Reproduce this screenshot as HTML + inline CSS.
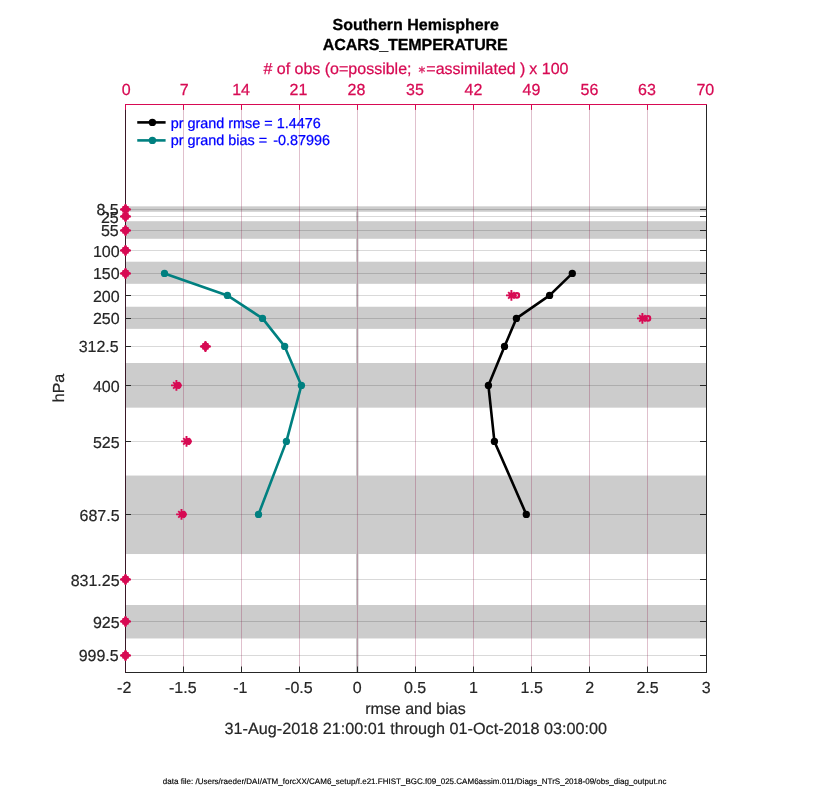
<!DOCTYPE html>
<html lang="en"><head><meta charset="utf-8"><title>ACARS_TEMPERATURE Southern Hemisphere</title>
<style>html,body{margin:0;padding:0;background:#fff}svg{display:block}text{font-family:'Liberation Sans', 'DejaVu Sans', sans-serif;text-rendering:geometricPrecision}</style>
</head><body>
<svg width="830" height="800" viewBox="0 0 830 800">
<rect width="830" height="800" fill="#fff"/>
<g fill="#cccccc">
<rect x="126.00" y="206.34" width="580.00" height="5.41"/>
<rect x="126.00" y="221.20" width="580.00" height="17.58"/>
<rect x="126.00" y="261.71" width="580.00" height="22.10"/>
<rect x="126.00" y="306.74" width="580.00" height="22.11"/>
<rect x="126.00" y="363.01" width="580.00" height="44.65"/>
<rect x="126.00" y="475.56" width="580.00" height="78.46"/>
<rect x="126.00" y="604.99" width="580.00" height="33.47"/>
</g>
<rect x="356" y="206.53" width="2.5" height="465.97" fill="#c8c8c8"/>
<g stroke="#000" stroke-opacity="0.15" stroke-width="1">
<line x1="125.50" y1="209.50" x2="706.50" y2="209.50"/>
<line x1="125.50" y1="216.50" x2="706.50" y2="216.50"/>
<line x1="125.50" y1="230.50" x2="706.50" y2="230.50"/>
<line x1="125.50" y1="250.50" x2="706.50" y2="250.50"/>
<line x1="125.50" y1="273.50" x2="706.50" y2="273.50"/>
<line x1="125.50" y1="295.50" x2="706.50" y2="295.50"/>
<line x1="125.50" y1="318.50" x2="706.50" y2="318.50"/>
<line x1="125.50" y1="346.50" x2="706.50" y2="346.50"/>
<line x1="125.50" y1="385.50" x2="706.50" y2="385.50"/>
<line x1="125.50" y1="441.50" x2="706.50" y2="441.50"/>
<line x1="125.50" y1="514.50" x2="706.50" y2="514.50"/>
<line x1="125.50" y1="579.50" x2="706.50" y2="579.50"/>
<line x1="125.50" y1="621.50" x2="706.50" y2="621.50"/>
<line x1="125.50" y1="655.50" x2="706.50" y2="655.50"/>
</g>
<g>
<line x1="137.25" y1="122.4" x2="165.6" y2="122.4" stroke="#000" stroke-width="2.6"/>
<circle cx="152.4" cy="122.4" r="3.7" fill="#000"/>
<line x1="137.25" y1="140.4" x2="165.6" y2="140.4" stroke="#008080" stroke-width="2.6"/>
<circle cx="152.4" cy="140.4" r="3.7" fill="#008080"/>
<g font-size="14.4" fill="#0000ff" stroke="#0000ff" stroke-width="0.25">
<text x="170.7" y="128">pr grand rmse = 1.4476</text>
<text x="170.7" y="145">pr grand bias =</text>
<text x="330" y="145" text-anchor="end">-0.87996</text>
</g>
</g>
<g stroke="#8c1545" stroke-opacity="0.27" stroke-width="1">
<line x1="183.50" y1="104.50" x2="183.50" y2="672.50"/>
<line x1="241.50" y1="104.50" x2="241.50" y2="672.50"/>
<line x1="299.50" y1="104.50" x2="299.50" y2="672.50"/>
<line x1="357.50" y1="104.50" x2="357.50" y2="672.50"/>
<line x1="415.50" y1="104.50" x2="415.50" y2="672.50"/>
<line x1="473.50" y1="104.50" x2="473.50" y2="672.50"/>
<line x1="531.50" y1="104.50" x2="531.50" y2="672.50"/>
<line x1="589.50" y1="104.50" x2="589.50" y2="672.50"/>
<line x1="647.50" y1="104.50" x2="647.50" y2="672.50"/>
</g>
<polyline fill="none" stroke="#008080" stroke-width="2.6" stroke-linejoin="round" points="164.50,273.40 227.40,295.40 262.50,318.40 284.65,346.40 301.40,385.40 286.40,441.40 258.50,514.40"/>
<circle cx="164.50" cy="273.40" r="3.65" fill="#008080"/>
<circle cx="227.40" cy="295.40" r="3.65" fill="#008080"/>
<circle cx="262.50" cy="318.40" r="3.65" fill="#008080"/>
<circle cx="284.65" cy="346.40" r="3.65" fill="#008080"/>
<circle cx="301.40" cy="385.40" r="3.65" fill="#008080"/>
<circle cx="286.40" cy="441.40" r="3.65" fill="#008080"/>
<circle cx="258.50" cy="514.40" r="3.65" fill="#008080"/>
<polyline fill="none" stroke="#000" stroke-width="2.6" stroke-linejoin="round" points="572.30,273.40 549.60,295.40 516.40,318.40 504.50,346.40 488.40,385.40 494.40,441.40 526.30,514.40"/>
<circle cx="572.30" cy="273.40" r="3.65" fill="#000"/>
<circle cx="549.60" cy="295.40" r="3.65" fill="#000"/>
<circle cx="516.40" cy="318.40" r="3.65" fill="#000"/>
<circle cx="504.50" cy="346.40" r="3.65" fill="#000"/>
<circle cx="488.40" cy="385.40" r="3.65" fill="#000"/>
<circle cx="494.40" cy="441.40" r="3.65" fill="#000"/>
<circle cx="526.30" cy="514.40" r="3.65" fill="#000"/>
<g stroke-width="1" fill="none">
<line x1="125.00" y1="672.50" x2="707.00" y2="672.50" stroke="#262626"/>
<line x1="706.50" y1="104.50" x2="706.50" y2="672.50" stroke="#262626"/>
<line x1="125.50" y1="104.50" x2="125.50" y2="672.50" stroke="#3a1727"/>
<line x1="125.00" y1="104.50" x2="707.00" y2="104.50" stroke="#d70a53"/>
</g>
<g stroke="#262626" stroke-width="1">
<line x1="183.50" y1="673.00" x2="183.50" y2="666.50"/>
<line x1="241.50" y1="673.00" x2="241.50" y2="666.50"/>
<line x1="299.50" y1="673.00" x2="299.50" y2="666.50"/>
<line x1="357.50" y1="673.00" x2="357.50" y2="666.50"/>
<line x1="415.50" y1="673.00" x2="415.50" y2="666.50"/>
<line x1="473.50" y1="673.00" x2="473.50" y2="666.50"/>
<line x1="531.50" y1="673.00" x2="531.50" y2="666.50"/>
<line x1="589.50" y1="673.00" x2="589.50" y2="666.50"/>
<line x1="647.50" y1="673.00" x2="647.50" y2="666.50"/>
<line x1="125.00" y1="209.50" x2="131.00" y2="209.50"/>
<line x1="707.00" y1="209.50" x2="700.00" y2="209.50"/>
<line x1="125.00" y1="216.50" x2="131.00" y2="216.50"/>
<line x1="707.00" y1="216.50" x2="700.00" y2="216.50"/>
<line x1="125.00" y1="230.50" x2="131.00" y2="230.50"/>
<line x1="707.00" y1="230.50" x2="700.00" y2="230.50"/>
<line x1="125.00" y1="250.50" x2="131.00" y2="250.50"/>
<line x1="707.00" y1="250.50" x2="700.00" y2="250.50"/>
<line x1="125.00" y1="273.50" x2="131.00" y2="273.50"/>
<line x1="707.00" y1="273.50" x2="700.00" y2="273.50"/>
<line x1="125.00" y1="295.50" x2="131.00" y2="295.50"/>
<line x1="707.00" y1="295.50" x2="700.00" y2="295.50"/>
<line x1="125.00" y1="318.50" x2="131.00" y2="318.50"/>
<line x1="707.00" y1="318.50" x2="700.00" y2="318.50"/>
<line x1="125.00" y1="346.50" x2="131.00" y2="346.50"/>
<line x1="707.00" y1="346.50" x2="700.00" y2="346.50"/>
<line x1="125.00" y1="385.50" x2="131.00" y2="385.50"/>
<line x1="707.00" y1="385.50" x2="700.00" y2="385.50"/>
<line x1="125.00" y1="441.50" x2="131.00" y2="441.50"/>
<line x1="707.00" y1="441.50" x2="700.00" y2="441.50"/>
<line x1="125.00" y1="514.50" x2="131.00" y2="514.50"/>
<line x1="707.00" y1="514.50" x2="700.00" y2="514.50"/>
<line x1="125.00" y1="579.50" x2="131.00" y2="579.50"/>
<line x1="707.00" y1="579.50" x2="700.00" y2="579.50"/>
<line x1="125.00" y1="621.50" x2="131.00" y2="621.50"/>
<line x1="707.00" y1="621.50" x2="700.00" y2="621.50"/>
<line x1="125.00" y1="655.50" x2="131.00" y2="655.50"/>
<line x1="707.00" y1="655.50" x2="700.00" y2="655.50"/>
</g>
<g stroke="#d70a53" stroke-width="1">
<line x1="125.50" y1="104.00" x2="125.50" y2="109.90"/>
<line x1="183.50" y1="104.00" x2="183.50" y2="109.90"/>
<line x1="241.50" y1="104.00" x2="241.50" y2="109.90"/>
<line x1="299.50" y1="104.00" x2="299.50" y2="109.90"/>
<line x1="357.50" y1="104.00" x2="357.50" y2="109.90"/>
<line x1="415.50" y1="104.00" x2="415.50" y2="109.90"/>
<line x1="473.50" y1="104.00" x2="473.50" y2="109.90"/>
<line x1="531.50" y1="104.00" x2="531.50" y2="109.90"/>
<line x1="589.50" y1="104.00" x2="589.50" y2="109.90"/>
<line x1="647.50" y1="104.00" x2="647.50" y2="109.90"/>
</g>
<g stroke="#d70a53" fill="none">
<path stroke="none" fill="#d70a53" d="M124.75 203.92L126.25 203.92L127.20 206.07L128.20 206.07L128.85 206.72L128.85 207.72L131.00 208.67L131.00 210.17L128.85 211.12L128.85 212.12L128.20 212.77L127.20 212.77L126.25 214.92L124.75 214.92L123.80 212.77L122.80 212.77L122.15 212.12L122.15 211.12L120.00 210.17L120.00 208.67L122.15 207.72L122.15 206.72L122.80 206.07L123.80 206.07Z"/>
<path stroke="none" fill="#d70a53" d="M124.75 210.92L126.25 210.92L127.20 213.07L128.20 213.07L128.85 213.72L128.85 214.72L131.00 215.67L131.00 217.17L128.85 218.12L128.85 219.12L128.20 219.77L127.20 219.77L126.25 221.92L124.75 221.92L123.80 219.77L122.80 219.77L122.15 219.12L122.15 218.12L120.00 217.17L120.00 215.67L122.15 214.72L122.15 213.72L122.80 213.07L123.80 213.07Z"/>
<path stroke="none" fill="#d70a53" d="M124.75 224.92L126.25 224.92L127.20 227.07L128.20 227.07L128.85 227.72L128.85 228.72L131.00 229.67L131.00 231.17L128.85 232.12L128.85 233.12L128.20 233.77L127.20 233.77L126.25 235.92L124.75 235.92L123.80 233.77L122.80 233.77L122.15 233.12L122.15 232.12L120.00 231.17L120.00 229.67L122.15 228.72L122.15 227.72L122.80 227.07L123.80 227.07Z"/>
<path stroke="none" fill="#d70a53" d="M124.75 244.92L126.25 244.92L127.20 247.07L128.20 247.07L128.85 247.72L128.85 248.72L131.00 249.67L131.00 251.17L128.85 252.12L128.85 253.12L128.20 253.77L127.20 253.77L126.25 255.92L124.75 255.92L123.80 253.77L122.80 253.77L122.15 253.12L122.15 252.12L120.00 251.17L120.00 249.67L122.15 248.72L122.15 247.72L122.80 247.07L123.80 247.07Z"/>
<path stroke="none" fill="#d70a53" d="M124.75 267.92L126.25 267.92L127.20 270.07L128.20 270.07L128.85 270.72L128.85 271.72L131.00 272.67L131.00 274.17L128.85 275.12L128.85 276.12L128.20 276.77L127.20 276.77L126.25 278.92L124.75 278.92L123.80 276.77L122.80 276.77L122.15 276.12L122.15 275.12L120.00 274.17L120.00 272.67L122.15 271.72L122.15 270.72L122.80 270.07L123.80 270.07Z"/>
<path stroke="none" fill="#d70a53" fill-opacity="0.35" d="M507.10 295.42L511.40 291.12L515.70 295.42L511.40 299.72Z"/>
<path stroke-width="1.9" d="M506.00 295.42H516.80M511.40 290.02V300.82M508.15 292.17L514.65 298.67M508.15 298.67L514.65 292.17"/>
<circle stroke-width="2.2" cx="516.90" cy="295.42" r="2.2"/>
<path stroke="none" fill="#d70a53" fill-opacity="0.35" d="M638.10 318.42L642.40 314.12L646.70 318.42L642.40 322.72Z"/>
<path stroke-width="1.9" d="M637.00 318.42H647.80M642.40 313.02V323.82M639.15 315.17L645.65 321.67M639.15 321.67L645.65 315.17"/>
<circle stroke-width="2.2" cx="648.00" cy="318.42" r="2.2"/>
<path stroke="none" fill="#d70a53" d="M204.70 340.92L206.20 340.92L207.15 343.07L208.15 343.07L208.80 343.72L208.80 344.72L210.95 345.67L210.95 347.17L208.80 348.12L208.80 349.12L208.15 349.77L207.15 349.77L206.20 351.92L204.70 351.92L203.75 349.77L202.75 349.77L202.10 349.12L202.10 348.12L199.95 347.17L199.95 345.67L202.10 344.72L202.10 343.72L202.75 343.07L203.75 343.07Z"/>
<circle stroke="none" fill="#d70a53" cx="177.40" cy="385.42" r="3.1"/>
<path stroke-width="1.9" d="M171.00 385.42H181.80M176.40 380.02V390.82M173.15 382.17L179.65 388.67M173.15 388.67L179.65 382.17"/>
<circle stroke-width="2.2" cx="178.20" cy="385.42" r="2.2"/>
<circle stroke="none" fill="#d70a53" cx="187.50" cy="441.42" r="3.1"/>
<path stroke-width="1.9" d="M181.10 441.42H191.90M186.50 436.02V446.82M183.25 438.17L189.75 444.67M183.25 444.67L189.75 438.17"/>
<circle stroke-width="2.2" cx="188.30" cy="441.42" r="2.2"/>
<circle stroke="none" fill="#d70a53" cx="182.50" cy="514.42" r="3.1"/>
<path stroke-width="1.9" d="M176.10 514.42H186.90M181.50 509.02V519.82M178.25 511.17L184.75 517.67M178.25 517.67L184.75 511.17"/>
<circle stroke-width="2.2" cx="183.30" cy="514.42" r="2.2"/>
<path stroke="none" fill="#d70a53" d="M124.75 573.92L126.25 573.92L127.20 576.07L128.20 576.07L128.85 576.72L128.85 577.72L131.00 578.67L131.00 580.17L128.85 581.12L128.85 582.12L128.20 582.77L127.20 582.77L126.25 584.92L124.75 584.92L123.80 582.77L122.80 582.77L122.15 582.12L122.15 581.12L120.00 580.17L120.00 578.67L122.15 577.72L122.15 576.72L122.80 576.07L123.80 576.07Z"/>
<path stroke="none" fill="#d70a53" d="M124.75 615.92L126.25 615.92L127.20 618.07L128.20 618.07L128.85 618.72L128.85 619.72L131.00 620.67L131.00 622.17L128.85 623.12L128.85 624.12L128.20 624.77L127.20 624.77L126.25 626.92L124.75 626.92L123.80 624.77L122.80 624.77L122.15 624.12L122.15 623.12L120.00 622.17L120.00 620.67L122.15 619.72L122.15 618.72L122.80 618.07L123.80 618.07Z"/>
<path stroke="none" fill="#d70a53" d="M124.75 649.92L126.25 649.92L127.20 652.07L128.20 652.07L128.85 652.72L128.85 653.72L131.00 654.67L131.00 656.17L128.85 657.12L128.85 658.12L128.20 658.77L127.20 658.77L126.25 660.92L124.75 660.92L123.80 658.77L122.80 658.77L122.15 658.12L122.15 657.12L120.00 656.17L120.00 654.67L122.15 653.72L122.15 652.72L122.80 652.07L123.80 652.07Z"/>
</g>
<g font-size="16" fill="#262626" stroke="#262626" stroke-width="0.2">
<text x="118.7" y="215" text-anchor="end">8.5</text>
<text x="118.7" y="223" text-anchor="end">25</text>
<text x="118.7" y="236" text-anchor="end">55</text>
<text x="119.6" y="257" text-anchor="end">100</text>
<text x="119.6" y="279" text-anchor="end">150</text>
<text x="119.6" y="302" text-anchor="end">200</text>
<text x="119.6" y="324" text-anchor="end">250</text>
<text x="118.7" y="352" text-anchor="end">312.5</text>
<text x="119.6" y="392" text-anchor="end">400</text>
<text x="119.6" y="448" text-anchor="end">525</text>
<text x="119.6" y="521" text-anchor="end">687.5</text>
<text x="119.6" y="586" text-anchor="end">831.25</text>
<text x="119.6" y="628" text-anchor="end">925</text>
<text x="118.7" y="661" text-anchor="end">999.5</text>
<text x="124.20" y="693" text-anchor="middle">-2</text>
<text x="182.80" y="693" text-anchor="middle">-1.5</text>
<text x="240.40" y="693" text-anchor="middle">-1</text>
<text x="298.90" y="693" text-anchor="middle">-0.5</text>
<text x="357.30" y="693" text-anchor="middle">0</text>
<text x="415.10" y="693" text-anchor="middle">0.5</text>
<text x="473.50" y="693" text-anchor="middle">1</text>
<text x="531.70" y="693" text-anchor="middle">1.5</text>
<text x="589.80" y="693" text-anchor="middle">2</text>
<text x="647.50" y="693" text-anchor="middle">2.5</text>
<text x="706.20" y="693" text-anchor="middle">3</text>
<text x="415.4" y="714" text-anchor="middle">rmse and bias</text>
<text x="415.85" y="734" font-size="16.2" text-anchor="middle">31-Aug-2018 21:00:01 through 01-Oct-2018 03:00:00</text>
<text transform="translate(63.5 388) rotate(-90)" text-anchor="middle">hPa</text>
</g>
<g font-size="16" fill="#d70a53" stroke="#d70a53" stroke-width="0.25">
<text x="126.25" y="95" text-anchor="middle">0</text>
<text x="184.10" y="95" text-anchor="middle">7</text>
<text x="241.10" y="95" text-anchor="middle">14</text>
<text x="298.50" y="95" text-anchor="middle">21</text>
<text x="356.50" y="95" text-anchor="middle">28</text>
<text x="415.00" y="95" text-anchor="middle">35</text>
<text x="473.50" y="95" text-anchor="middle">42</text>
<text x="531.50" y="95" text-anchor="middle">49</text>
<text x="589.50" y="95" text-anchor="middle">56</text>
<text x="647.00" y="95" text-anchor="middle">63</text>
<text x="705.30" y="95" text-anchor="middle">70</text>
<text x="263.4" y="74"># of obs (o=possible;</text>
<text x="422" y="73" font-size="10.5" text-anchor="middle" fill-opacity="0.85">&#8727;</text>
<text x="426.3" y="74">=assimilated )</text>
<text x="568.5" y="74" text-anchor="end">x 100</text>
</g>
<g font-size="16" font-weight="bold" fill="#000" stroke="#000" stroke-width="0.3" text-anchor="middle">
<text x="415.7" y="30">Southern Hemisphere</text>
<text x="415.3" y="50" textLength="184.9" lengthAdjust="spacing">ACARS_TEMPERATURE</text>
</g>
<text x="414.6" y="783.6" font-size="8" fill="#000" stroke="#000" stroke-width="0.15" text-anchor="middle" textLength="503.6" lengthAdjust="spacing">data file: /Users/raeder/DAI/ATM_forcXX/CAM6_setup/f.e21.FHIST_BGC.f09_025.CAM6assim.011/Diags_NTrS_2018-09/obs_diag_output.nc</text>
</svg></body></html>
